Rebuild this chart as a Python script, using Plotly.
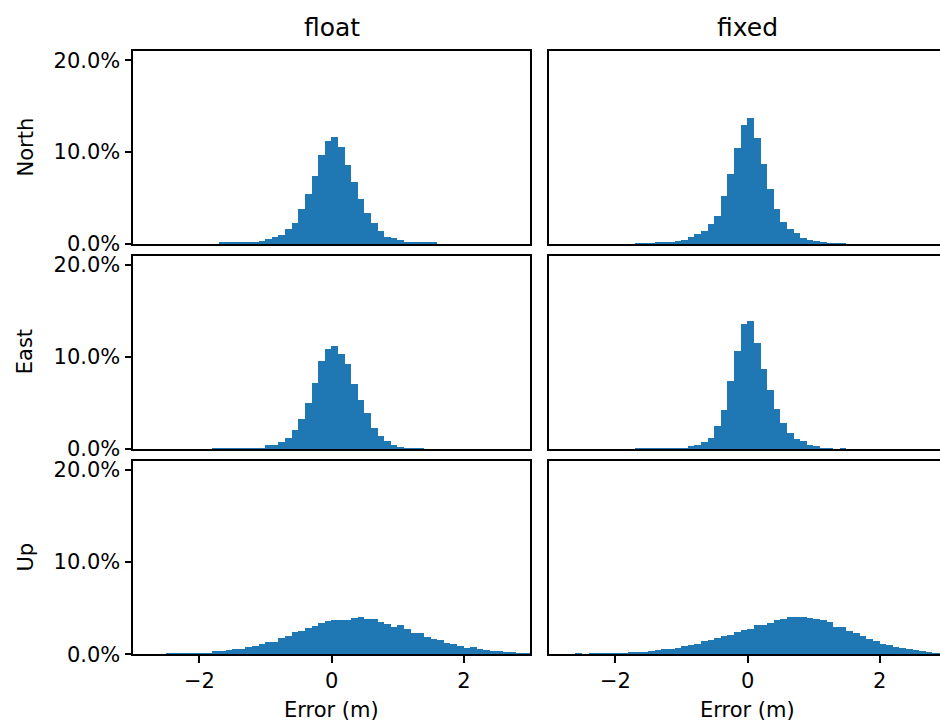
import plotly.graph_objects as go

# ---- data (percent of samples per 0.1 m bin, bins from -3.0 to 3.0) ----
bin_left = [round(-3.0 + 0.1 * i, 1) for i in range(60)]

north_float = [0]*13 + [0.11]*4 + [0.22, 0.22, 0.33, 0.54, 0.72, 0.98, 1.63, 2.25, 3.80, 5.43, 7.39, 9.67, 11.20,
               11.63, 10.54, 8.59, 6.74, 4.89, 3.37, 2.28, 1.41, 0.76, 0.65, 0.43] + [0.11]*5 + [0]*14
north_fixed = [0]*13 + [0.07]*3 + [0.18]*3 + [0.29, 0.40, 0.72, 1.05, 1.38, 2.14, 3.00, 5.18, 7.57, 10.4, 12.9,
               13.66, 11.49, 8.66, 5.94, 3.77, 2.36, 1.59, 1.16, 0.62, 0.40, 0.29, 0.18] + [0.07]*3 + [0]*15
east_float = [0]*12 + [0.07]*5 + [0.18]*3 + [0.51, 0.51, 0.83, 1.23, 2.14, 3.33, 5.07, 7.25, 9.64, 10.94,
              11.27, 10.4, 9.31, 7.14, 5.4, 3.99, 2.36, 1.49, 0.94, 0.51, 0.29, 0.18, 0.18, 0.07] + [0]*16
east_fixed = [0]*13 + [0.07]*5 + [0.18]*3 + [0.40, 0.51, 0.83, 1.27, 2.57, 4.31, 7.46, 10.72, 13.66,
              13.99, 11.59, 8.77, 6.49, 4.42, 2.90, 1.81, 1.16, 0.94, 0.51, 0.40, 0.18, 0.18, 0, 0.07] + [0]*15
up_float = [0.03, 0.03, 0.04, 0.05, 0.06, 0.08, 0.11, 0.11, 0.11, 0.22, 0.22, 0.22, 0.36, 0.36, 0.47, 0.58, 0.58,
            0.87, 0.98, 1.20, 1.41, 1.41, 1.85, 2.07, 2.50, 2.61, 2.93, 3.15, 3.48, 3.62,
            3.70, 3.80, 3.80, 4.02, 4.13, 3.91, 3.91, 3.59, 3.37, 3.04, 3.26, 2.83, 2.39, 2.39, 1.96, 1.74,
            1.63, 1.30, 1.20, 0.98, 0.76, 0.87, 0.65, 0.54, 0.43, 0.43, 0.33, 0.33, 0.22, 0.22]
up_fixed = [0.02, 0.02, 0.03, 0.03, 0.11, 0.04, 0.11, 0.11, 0.11, 0.11, 0.22, 0.22, 0.33, 0.33, 0.33, 0.43, 0.54,
            0.65, 0.65, 0.76, 0.98, 1.09, 1.20, 1.52, 1.63, 1.85, 2.07, 2.17, 2.50, 2.72,
            2.83, 3.26, 3.26, 3.48, 3.80, 3.91, 4.13, 4.13, 4.13, 4.02, 3.91, 3.80, 3.59, 3.04, 3.04, 2.61,
            2.39, 2.07, 1.74, 1.52, 1.20, 1.09, 0.87, 0.76, 0.65, 0.54, 0.43, 0.33, 0.22, 0.20]

col_titles = ["float", "fixed"]
row_titles = ["North", "East", "Up"]
panels = [[north_float, north_fixed], [east_float, east_fixed], [up_float, up_fixed]]
y_tickvals = [0.0, 0.1, 0.2]
y_ticktext = ["0.0%", "10.0%", "20.0%"]
x_tickvals = [-2, 0, 2]
x_ticktext = ["\u22122", "0", "2"]

# ---- layout geometry (pixels) ----
W, H = 940, 722
FONT = "DejaVu Sans"
BLUE = "#1f77b4"
row_px = [(51, 244), (255.5, 449), (460.7, 654.3)]
col_px = [(133.3, 530.0), (549.3, 940.0)]
px_per_unit = 66.1
col_ranges = [[-3, 3], [-3, -3 + (col_px[1][1] - col_px[1][0]) / px_per_unit]]

fig = go.Figure()
centers = [round(b + 0.05, 2) for b in bin_left]

layout = dict(
    template="none",
    width=W, height=H, margin=dict(l=0, r=0, t=0, b=0, pad=0, autoexpand=False),
    paper_bgcolor="white", plot_bgcolor="white",
    showlegend=False, bargap=0,
    font=dict(family=FONT, size=21, color="black"),
)
annotations = []
idx = 0
for r in range(3):
    for c in range(2):
        idx += 1
        xa = "x" if idx == 1 else f"x{idx}"
        ya = "y" if idx == 1 else f"y{idx}"
        vals = [v / 100.0 for v in panels[r][c]]
        fig.add_trace(go.Bar(x=centers, y=vals, width=0.1, xaxis=xa, yaxis=ya,
                             marker=dict(color=BLUE, line=dict(width=0)), hoverinfo="skip"))
        y0, y1 = row_px[r]
        x0, x1 = col_px[c]
        xdom = [x0 / W, x1 / W]
        ydom = [1 - y1 / H, 1 - y0 / H]
        xkey = "xaxis" if idx == 1 else f"xaxis{idx}"
        ykey = "yaxis" if idx == 1 else f"yaxis{idx}"
        bottom = (r == 2)
        left = (c == 0)
        layout[xkey] = dict(
            domain=xdom, anchor=ya, range=col_ranges[c], automargin=False,
            showline=True, linecolor="black", linewidth=1.6, mirror=True,
            showgrid=False, zeroline=False,
            ticks="outside" if bottom else "", ticklen=7, tickwidth=1.6, tickcolor="black",
            tickvals=x_tickvals, ticktext=x_ticktext, showticklabels=bottom,
            tickfont=dict(family=FONT, size=21),
        )
        layout[ykey] = dict(
            domain=ydom, anchor=xa, range=[0, 0.21], automargin=False,
            showline=True, linecolor="black", linewidth=1.6, mirror=left,
            showgrid=False, zeroline=False,
            ticks="outside" if left else "", ticklen=7, tickwidth=1.6, tickcolor="black",
            tickvals=y_tickvals, ticktext=y_ticktext, showticklabels=left,
            tickfont=dict(family=FONT, size=21),
        )

# column titles and x-axis labels
for c, t in enumerate(col_titles):
    cx = (col_px[c][0] + (col_px[c][0] + 6 * px_per_unit)) / 2
    annotations.append(dict(text=t, x=cx / W, y=1 - 28 / H, xref="paper", yref="paper",
                            xanchor="center", yanchor="middle", showarrow=False,
                            font=dict(family=FONT, size=25, color="black")))
    annotations.append(dict(text="Error (m)", x=cx / W, y=1 - 710 / H, xref="paper", yref="paper",
                            xanchor="center", yanchor="middle", showarrow=False,
                            font=dict(family=FONT, size=21, color="black")))
# row labels
for r, t in enumerate(row_titles):
    cy = (row_px[r][0] + row_px[r][1]) / 2
    annotations.append(dict(text=t, x=25 / W, y=1 - cy / H, xref="paper", yref="paper",
                            xanchor="center", yanchor="middle", showarrow=False, textangle=-90,
                            font=dict(family=FONT, size=21, color="black")))

layout["annotations"] = annotations
fig.update_layout(**layout)
fig.write_html("out.html")
